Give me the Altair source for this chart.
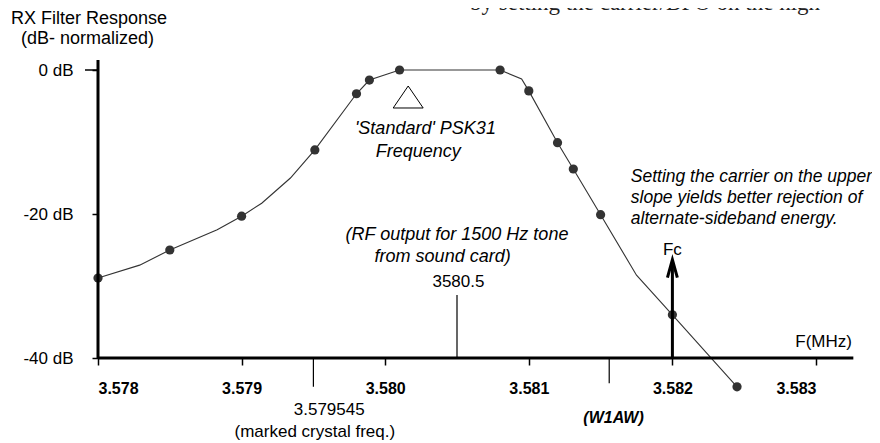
import altair as alt
import pandas as pd

# Filter response curve (frequency in MHz, response in dB)
freq_mhz = [3.57800, 3.57829, 3.57850, 3.57883, 3.57900, 3.57914, 3.57934, 3.57951,
            3.57980, 3.57989, 3.58010, 3.58080, 3.58095, 3.58100, 3.58120, 3.58131,
            3.58150, 3.58175, 3.58200, 3.58245]
response_db = [-28.9, -27.1, -25.0, -22.2, -20.3, -18.5, -15.0, -11.1,
               -3.3, -1.4, 0.0, 0.0, -1.25, -2.9, -10.1, -13.75,
               -20.1, -28.5, -34.0, -44.0]
measured = [True, False, True, False, True, False, False, True,
            True, True, True, True, False, True, True, True,
            True, False, True, True]

x_ticks = [3.578, 3.579, 3.580, 3.581, 3.582, 3.583]
y_ticks = [0, -20, -40]

FONT = "Liberation Sans"
INK = "#333333"

df = pd.DataFrame({"f": freq_mhz, "db": response_db, "m": measured})
one = pd.DataFrame({"k": [0]})

xs = alt.Scale(domain=[3.578, 3.583], nice=False, zero=False)
ys = alt.Scale(domain=[-40, 0], nice=False, zero=False)

x_enc = alt.X("f:Q", scale=xs, axis=alt.Axis(
    values=x_ticks, format=".3f", title=None, grid=False, domain=False,
    tickSize=7, tickWidth=1.5, tickColor="black",
    labelFont=FONT, labelFontSize=16, labelFontWeight="bold", labelColor="black",
    labelPadding=15))
y_enc = alt.Y("db:Q", scale=ys, axis=alt.Axis(
    values=y_ticks, labelExpr="datum.value + ' dB'", title=None, grid=False, domain=False,
    tickSize=6, tickWidth=1.5, tickColor="black",
    labelFont=FONT, labelFontSize=17, labelColor="black", labelPadding=19))

curve = alt.Chart(df).mark_line(color=INK, strokeWidth=1.1).encode(x=x_enc, y=y_enc, order="f:Q")
dots = alt.Chart(df).transform_filter("datum.m").mark_circle(
    size=85, color=INK, opacity=1).encode(x="f:Q", y="db:Q")

base = alt.Chart(one)

def rule(x, y, x2=None, y2=None, w=1.2):
    enc = {"x": alt.datum(x), "y": alt.datum(y)}
    if x2 is not None:
        enc["x2"] = alt.datum(x2)
    if y2 is not None:
        enc["y2"] = alt.datum(y2)
    return base.mark_rule(color="black", strokeWidth=w).encode(**enc)

def label(text, x, y, size=17, align="center", style="normal", weight="normal", font=FONT, color="black"):
    return base.mark_text(text=text, align=align, baseline="middle", fontSize=size,
                          fontStyle=style, fontWeight=weight, font=font, color=color).encode(
        x=alt.datum(x), y=alt.datum(y))

axes = [
    rule(3.578, -40, x2=3.58326, w=3),
    rule(3.578, 1.4, y2=-40, w=3),
    base.mark_rule(color="black", strokeWidth=1.5).encode(
        x=alt.value(-13), x2=alt.value(0), y=alt.datum(0)),
]

marks = [
    rule(3.5805, -31.25, y2=-40),
    rule(3.5795, -40, y2=-44.0),
    rule(3.58156, -40, y2=-43.5),
    rule(3.582, -40, y2=-27.0, w=3),
    base.mark_point(shape="M-0.55,1L0,-1L0.55,1", filled=False, stroke="black",
                    strokeWidth=3, size=324, opacity=1).encode(
        x=alt.datum(3.582), y=alt.datum(-27.6)),
    base.mark_point(shape="M0,-0.733L1,0.733L-1,0.733Z", filled=False, stroke="black",
                    strokeWidth=1, size=900, opacity=1).encode(
        x=alt.datum(3.58016), y=alt.datum(-3.75)),
]

texts = [
    base.mark_text(text="RX Filter Response", align="left", baseline="middle", fontSize=18,
                   font=FONT, color="black").encode(x=alt.value(-87), y=alt.value(-51)),
    base.mark_text(text="(dB- normalized)", align="left", baseline="middle", fontSize=18,
                   font=FONT, color="black").encode(x=alt.value(-77), y=alt.value(-31)),
    base.mark_text(text="by setting the carrier/BFO on the high", align="left",
                   baseline="alphabetic", fontSize=23, font="Liberation Serif",
                   color="#222222").encode(x=alt.value(372), y=alt.value(-60)),
    label("'Standard' PSK31", 3.58028, -8.26, size=18, style="italic"),
    label("Frequency", 3.58023, -11.4, size=18, style="italic"),
    label("(RF output for 1500 Hz tone", 3.5805, -22.9, size=18, style="italic"),
    label("from sound card)", 3.5804, -26.0, size=18, style="italic"),
    label("3580.5", 3.58051, -29.4),
    label("3.579545", 3.57961, -47.2),
    label("(marked crystal freq.)", 3.57951, -50.3),
    label("(W1AW)", 3.58159, -48.3, size=16, style="italic", weight="bold"),
    label("Setting the carrier on the upper", 3.58171, -14.9, size=17.5, align="left", style="italic"),
    label("slope yields better rejection of", 3.58171, -17.8, size=17.5, align="left", style="italic"),
    label("alternate-sideband energy.", 3.58171, -20.7, size=17.5, align="left", style="italic"),
    label("F(MHz)", 3.58325, -37.8, align="right"),
    label("Fc", 3.582, -25.0),
]

chart = alt.layer(curve, dots, *axes, *marks, *texts).properties(
    width=718, height=288,
    padding={"left": 90, "top": 62, "right": 56, "bottom": 85},
    autosize=alt.AutoSizeParams(type="none"),
    background="white",
).configure_view(stroke=None)

chart.save("out.html", embed_options={"renderer": "svg", "actions": False})
